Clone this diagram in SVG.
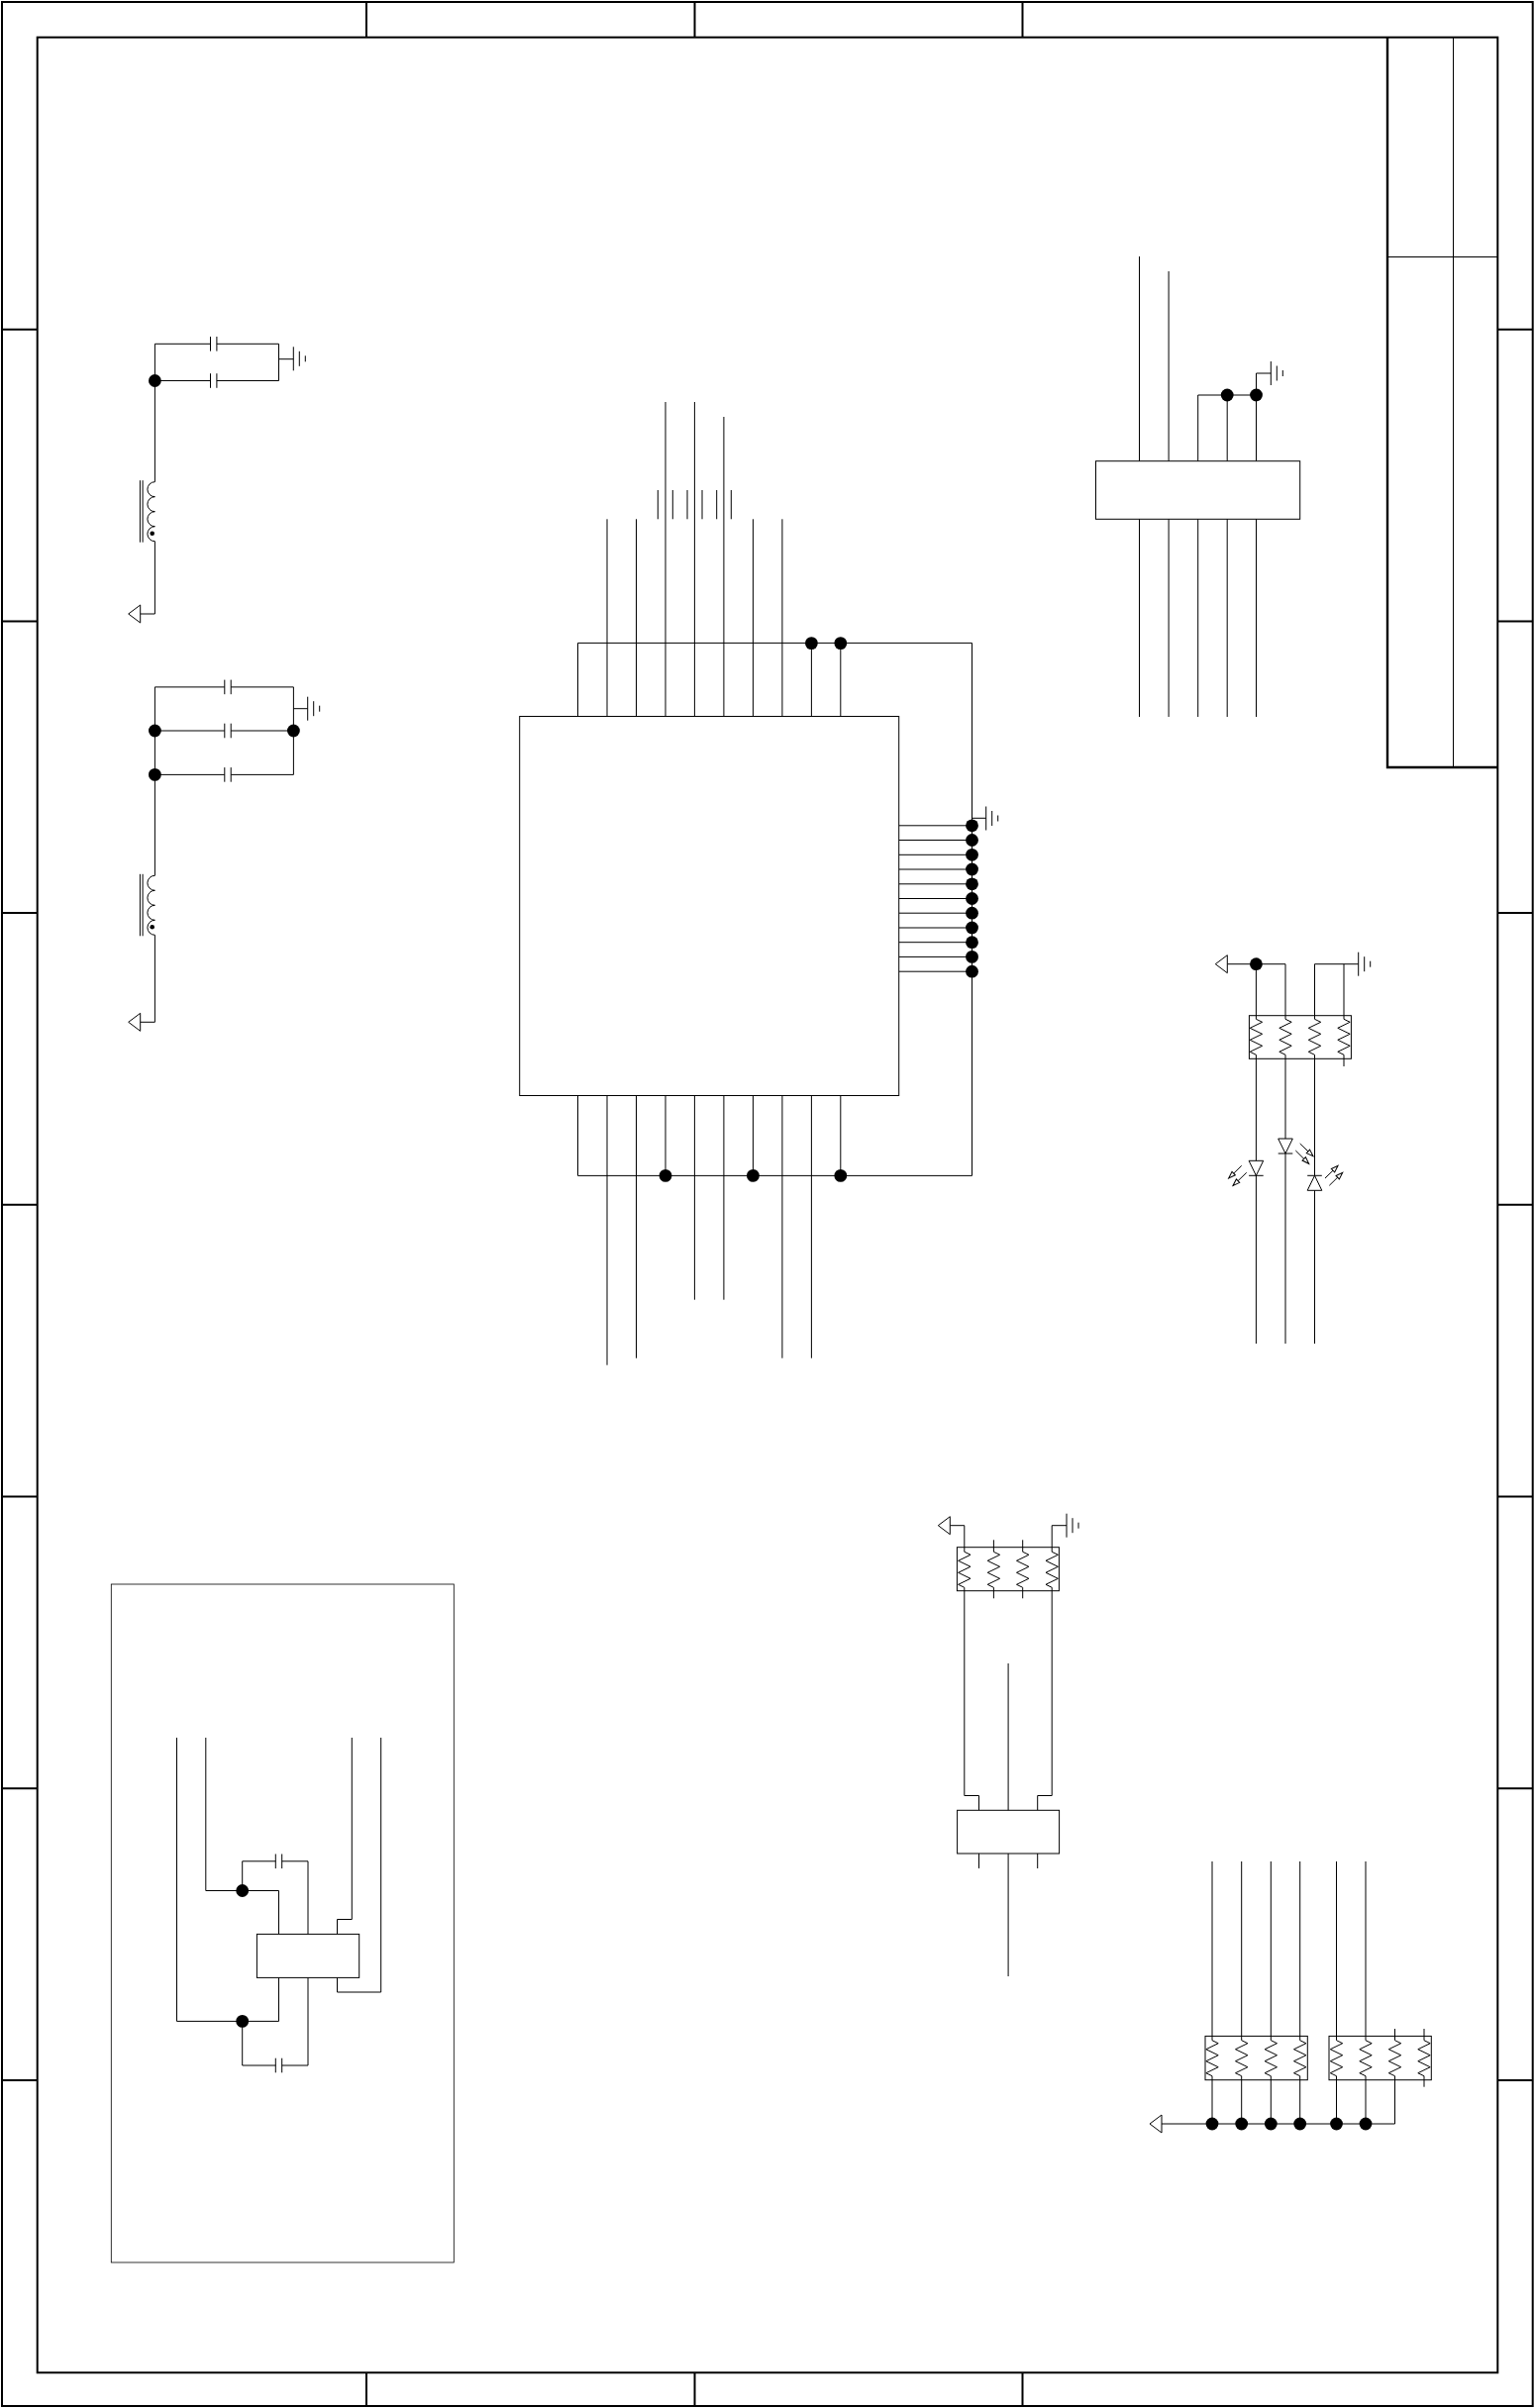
<svg xmlns="http://www.w3.org/2000/svg" width="1550" height="2432" viewBox="0 0 1550 2432">
<style>
.w{fill:none;stroke:#000;stroke-width:1}
.b{fill:#fff;stroke:#000;stroke-width:1}
.t{fill:none;stroke:#000;stroke-width:2}
.k{fill:none;stroke:#000;stroke-width:2.4}
.d{fill:#000;stroke:none}
.a{fill:none;stroke:#000;stroke-width:1;marker-end:url(#ah)}
</style>
<defs>
<marker id="ah" markerUnits="userSpaceOnUse" markerWidth="12" markerHeight="10" refX="9" refY="5" orient="auto"><polygon points="2,2.6 9,5 2,7.4" fill="#fff" stroke="#000" stroke-width="1"/></marker>
<path id="res" class="w" d="M0,0L6.2,3L-6.2,9L6.2,15L-6.2,21L6.2,27L-6.2,33L0,36"/>
<g id="gnd"><path class="w" d="M0,-12V12M6,-7.5V7.5M12,-3V3"/></g>
<g id="cap"><rect x="-3.2" y="-2" width="6.4" height="4" fill="#fff"/><path class="w" d="M-3.2,-7.3V7.3M3.2,-7.3V7.3"/></g>
<polygon id="tri" class="b" points="0,-9 0,9 -12,0"/>
<g id="ind"><path class="w" d="M0,0A7.5,7.5 0 0 0 0,15A7.5,7.5 0 0 0 0,30A7.5,7.5 0 0 0 0,45A7.5,7.5 0 0 0 0,60"/><circle class="d" cx="-2.7" cy="52" r="2.3"/><path class="w" d="M-15,-1.5V61M-12.3,-1.5V61"/></g>
<circle id="dot" class="d" r="6.4"/>
<g id="led"><polygon class="b" points="-7.3,-15 7.3,-15 0,0"/><path class="w" d="M-7.3,0H7.3"/></g>
</defs>

<g id="frame">
<rect class="t" x="2" y="2" width="1545.7" height="2428"/>
<rect class="t" x="37.7" y="37.7" width="1474.6" height="2358.6"/>
<path class="t" d="M2,332.7H37.7M2,627.4H37.7M2,922.1H37.7M2,1216.8H37.7M2,1511.5H37.7M2,1806.2H37.7M2,2100.9H37.7"/>
<path class="t" d="M1512,332.7H1547.7M1512,627.4H1547.7M1512,922.1H1547.7M1512,1216.8H1547.7M1512,1511.5H1547.7M1512,1806.2H1547.7M1512,2100.9H1547.7"/>
<path class="t" d="M370,2V37.7M701.5,2V37.7M1032.5,2V37.7M370,2396V2430M701.5,2396V2430M1032.5,2396V2430"/>
</g>
<g id="title-block">
<path class="k" d="M1401,37.7V775H1512"/>
<path class="w" d="M1467.5,37.7V775M1401,259.5H1512"/>
</g>
<g id="inset"><rect x="112.3" y="1600" width="346" height="685" fill="none" stroke="#000" stroke-width=".8"/></g>

<g id="connectors">
<path class="w" d="M156.4,347.3V486.7M156.4,546.7V620H141.7M156.4,347.3H281.5V384.5H156.4M281.5,362.7H296.3"/>
<path class="w" d="M156.4,693.9V884.3M156.4,944.3V1032.3H141.7M156.4,693.9H296.4V782.4H156.4M156.4,738H296.4M296.4,715.7H310.7"/>

<path class="w" d="M583.5,723.5V649.4H981.5V1187.4H583.5V1106.5"/>
<path class="w" d="M613,524.3V723.5M642.5,524.3V723.5M672,406V723.5M701.4,406V723.5M730.9,421V723.5M760.4,524.3V723.5M789.9,524.3V723.5M819.4,649.4V723.5M848.8,649.4V723.5"/>
<path class="w" d="M664.3,495V524.3M679.3,495V524.3M694,495V524.3M709,495V524.3M723.7,495V524.3M738.3,495V524.3"/>
<path class="w" d="M613,1106.5V1378.7M642.5,1106.5V1371.7M672,1106.5V1187.4M701.4,1106.5V1312.7M730.9,1106.5V1312.7M760.4,1106.5V1187.4M789.9,1106.5V1371.7M819.4,1106.5V1371.7M848.8,1106.5V1187.4"/>
<path class="w" d="M907.7,833.8H981.5M907.7,848.5H981.5M907.7,863.3H981.5M907.7,878H981.5M907.7,892.8H981.5M907.7,907.5H981.5M907.7,922.2H981.5M907.7,937H981.5M907.7,951.7H981.5M907.7,966.4H981.5M907.7,981.2H981.5M981.5,826.3H995.7"/>

<path class="w" d="M1150.5,259V724M1180.1,274V724M1209.7,399V724M1239.2,399V724M1268.5,377V724M1209.7,399H1268.5M1268.5,377H1283.3"/>

<path class="w" d="M1239.3,973.7H1298V1029.3M1268.4,973.7V1029.3M1327.5,973.7H1371.7M1327.5,973.7V1029.3M1357,973.7V1029.3M1357,1065.3V1077"/>
<path class="w" d="M1268.4,1065.3V1357M1298,1065.3V1357M1327.5,1065.3V1357"/>

<path class="w" d="M959.3,1540.7H973.8V1567.3M973.8,1603.3V1813.5H988.5V1828.3M1062.2,1603.3V1813.5H1047.7V1828.3M1062.2,1567.3V1540.7H1077M1003.4,1555.3V1567.3M1003.4,1603.3V1614.3M1032.7,1555.3V1567.3M1032.7,1603.3V1614.3M1018.1,1680V1996M988.5,1872V1887M1047.7,1872V1887"/>

<path class="w" d="M1224,1880V2060.7M1253.7,1880V2060.7M1283.3,1880V2060.7M1312.7,1880V2060.7M1349.5,1880V2060.7M1379,1880V2060.7M1224,2096.7V2145M1253.7,2096.7V2145M1283.3,2096.7V2145M1312.7,2096.7V2145M1349.5,2096.7V2145M1379,2096.7V2145M1408.5,2096.7V2145H1173M1408.5,2049V2060.7M1438,2049V2060.7M1438,2096.7V2107.7"/>

<path class="w" d="M178.5,1755V2041.4H281.5V1997.3M207.8,1755V1909.5H281.5V1953.3M244.7,1909.5V1879.8H311V2086H244.7V2041.4M355.3,1755V1938.5H340.5V1953.3M384.7,1755V2012H340.5V1997.3"/>

<g id="junctions">
<use href="#dot" x="156.4" y="384.5"/>
<use href="#dot" x="156.4" y="738"/><use href="#dot" x="156.4" y="782.4"/><use href="#dot" x="296.4" y="738"/>
<use href="#dot" x="819.4" y="649.6"/><use href="#dot" x="848.8" y="649.6"/>
<use href="#dot" x="672" y="1187.4"/><use href="#dot" x="760.4" y="1187.4"/><use href="#dot" x="848.8" y="1187.4"/>
<use href="#dot" x="981.5" y="833.8"/><use href="#dot" x="981.5" y="848.5"/><use href="#dot" x="981.5" y="863.3"/><use href="#dot" x="981.5" y="878"/><use href="#dot" x="981.5" y="892.8"/><use href="#dot" x="981.5" y="907.5"/><use href="#dot" x="981.5" y="922.2"/><use href="#dot" x="981.5" y="937"/><use href="#dot" x="981.5" y="951.7"/><use href="#dot" x="981.5" y="966.4"/><use href="#dot" x="981.5" y="981.2"/>
<use href="#dot" x="1239.2" y="399"/><use href="#dot" x="1268.5" y="399"/>
<use href="#dot" x="1268.4" y="973.7"/>
<use href="#dot" x="1224" y="2145"/><use href="#dot" x="1253.7" y="2145"/><use href="#dot" x="1283.3" y="2145"/><use href="#dot" x="1312.7" y="2145"/><use href="#dot" x="1349.5" y="2145"/><use href="#dot" x="1379" y="2145"/>
<use href="#dot" x="244.7" y="1909.5"/><use href="#dot" x="244.7" y="2041.4"/>
</g>
</g>

<g id="C1"><use href="#cap" x="215.7" y="347.3"/></g>
<g id="C2"><use href="#cap" x="215.7" y="384.5"/></g>
<g id="GND1"><use href="#gnd" x="296.3" y="362.3"/></g>
<g id="L1"><use href="#ind" x="156.4" y="486.7"/></g>
<g id="PORT1"><use href="#tri" x="141.7" y="620"/></g>

<g id="C3"><use href="#cap" x="230" y="693.9"/></g>
<g id="C4"><use href="#cap" x="230" y="738"/></g>
<g id="C5"><use href="#cap" x="230" y="782.4"/></g>
<g id="GND2"><use href="#gnd" x="310.7" y="715.7"/></g>
<g id="L2"><use href="#ind" x="156.4" y="884.3"/></g>
<g id="PORT2"><use href="#tri" x="141.7" y="1032.3"/></g>

<g id="U1"><rect class="b" x="524.7" y="723.5" width="383" height="383"/></g>
<g id="GND3"><use href="#gnd" x="995.7" y="826.5"/></g>

<g id="U2"><rect class="b" x="1106.5" y="465.7" width="206.2" height="58.6"/></g>
<g id="GND4"><use href="#gnd" x="1283.3" y="377"/></g>

<g id="RN1">
<rect class="w" x="1261.4" y="1025.7" width="103" height="43.6"/>
<use href="#res" x="1268.4" y="1029.3"/><use href="#res" x="1298" y="1029.3"/><use href="#res" x="1327.5" y="1029.3"/><use href="#res" x="1357" y="1029.3"/>
</g>
<g id="PORT3"><use href="#tri" x="1239.3" y="973.7"/></g>
<g id="GND5"><use href="#gnd" x="1371.7" y="973.7"/></g>
<g id="LED1"><use href="#led" x="1268.4" y="1187.3"/>
<path class="a" d="M1253.7,1177.3L1240.7,1190"/><path class="a" d="M1258.7,1184.3L1245,1197.5"/></g>
<g id="LED2"><use href="#led" x="1298" y="1165"/>
<path class="a" d="M1312.7,1155L1326,1167.7"/><path class="a" d="M1308.3,1162L1321.7,1175.3"/></g>
<g id="LED3"><use href="#led" transform="translate(1327.5,1187.3) scale(1,-1)"/>
<path class="a" d="M1338,1190L1351,1177.3"/><path class="a" d="M1342.3,1197.3L1355.7,1184.3"/></g>

<g id="RN2">
<rect class="w" x="966.4" y="1562.7" width="103" height="44"/>
<use href="#res" x="973.8" y="1567.3"/><use href="#res" x="1003.4" y="1567.3"/><use href="#res" x="1032.7" y="1567.3"/><use href="#res" x="1062.2" y="1567.3"/>
</g>
<g id="PORT4"><use href="#tri" x="959.3" y="1540.7"/></g>
<g id="GND6"><use href="#gnd" x="1077" y="1540.7"/></g>
<g id="U3"><rect class="b" x="966.6" y="1828.3" width="103" height="43.7"/></g>

<g id="RN3">
<rect class="w" x="1217" y="2056.4" width="103.3" height="44.3"/>
<use href="#res" x="1224" y="2060.7"/><use href="#res" x="1253.7" y="2060.7"/><use href="#res" x="1283.3" y="2060.7"/><use href="#res" x="1312.7" y="2060.7"/>
</g>
<g id="RN4">
<rect class="w" x="1342" y="2056.4" width="103.3" height="44.3"/>
<use href="#res" x="1349.5" y="2060.7"/><use href="#res" x="1379" y="2060.7"/><use href="#res" x="1408.5" y="2060.7"/><use href="#res" x="1438" y="2060.7"/>
</g>
<g id="PORT5"><use href="#tri" x="1173" y="2145"/></g>

<g id="U4"><rect class="b" x="259.4" y="1953.4" width="103.3" height="44"/></g>
<g id="C6"><use href="#cap" x="281.5" y="1879.8"/></g>
<g id="C7"><use href="#cap" x="281.5" y="2086"/></g>
</svg>
